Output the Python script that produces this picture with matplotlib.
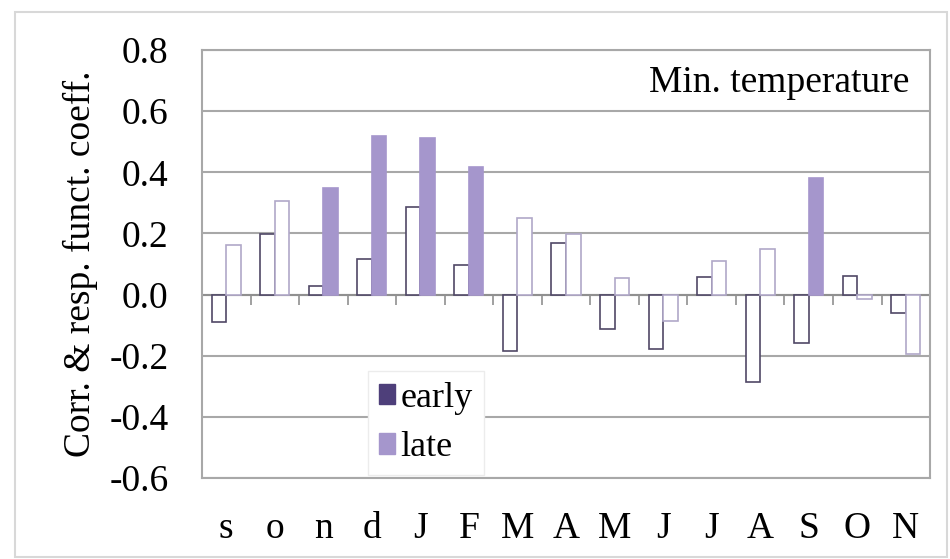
import numpy as np
import matplotlib
matplotlib.use("Agg")
import matplotlib.pyplot as plt
from matplotlib.patches import Patch, Rectangle

plt.rcParams["font.family"] = ["Liberation Serif", "DejaVu Serif"]

months = ["s", "o", "n", "d", "J", "F", "M", "A", "M", "J", "J", "A", "S", "O", "N"]
early = [-0.09, 0.198, 0.027, 0.116, 0.288, 0.097, -0.183, 0.168, -0.112, -0.179, 0.057, -0.287, -0.158, 0.06, -0.06]
late = [0.163, 0.307, 0.35, 0.517, 0.511, 0.418, 0.252, 0.198, 0.054, -0.087, 0.111, 0.149, 0.38, -0.016, -0.196]
# significant coefficients are drawn filled
early_sig = [False] * 15
late_sig = [False, False, True, True, True, True, False, False, False, False, False, False, True, False, False]

dark = "#4e3f7a"
light = "#a596cc"
grid_c = "#a8a8a8"

fig = plt.figure(figsize=(9.5, 5.59), dpi=100)
ax = fig.add_axes([0.2126, 0.1449, 0.7664, 0.7657])

x = np.arange(len(months))
w = 0.3
for i in range(len(months)):
    if early_sig[i]:
        ax.bar(x[i] - w / 2, early[i], w, color=dark, edgecolor=dark, lw=1.2, zorder=3)
    else:
        ax.bar(x[i] - w / 2, early[i], w, color="white", edgecolor="#504866", lw=1.2, zorder=3)
    if late_sig[i]:
        ax.bar(x[i] + w / 2, late[i], w, color=light, edgecolor=light, lw=1.2, zorder=3)
    else:
        ax.bar(x[i] + w / 2, late[i], w, color="white", edgecolor="#b0a8c8", lw=1.2, zorder=3)

ax.set_xlim(-0.5, len(months) - 0.5)
ax.set_ylim(-0.6, 0.8)
ax.set_yticks(np.arange(-0.6, 0.81, 0.2))
ax.set_yticklabels([f"{v:.1f}" for v in np.arange(-0.6, 0.81, 0.2)])
ax.set_xticks(x)
ax.set_xticklabels(months)
ax.tick_params(axis="both", length=0, labelsize=27)
ax.tick_params(axis="y", pad=24)
ax.tick_params(axis="x", pad=24)
ax.yaxis.grid(True, color=grid_c, lw=1.5, zorder=0)
for s in ax.spines.values():
    s.set_color(grid_c)
    s.set_linewidth(1.5)

# zero line with small ticks between months
ax.axhline(0, color="#909090", lw=1.5, zorder=2)
ax.vlines(x[:-1] + 0.5, -0.035, 0, color="#909090", lw=1.2, zorder=2)

ax.set_ylabel("Corr. & resp. funct. coeff.", fontsize=27, labelpad=8)
ax.text(0.972, 0.923, "Min. temperature", transform=ax.transAxes,
        ha="right", va="center", fontsize=27)

handles = [Patch(facecolor=dark, edgecolor=dark, label="early"),
           Patch(facecolor=light, edgecolor=light, label="late")]
leg = ax.legend(handles=handles, loc="upper left", bbox_to_anchor=(0.228, 0.25),
                fontsize=26, frameon=True, fancybox=False, framealpha=1,
                edgecolor="#ececec", handlelength=0.45, handleheight=0.5,
                handletextpad=0.15, borderpad=0.3, labelspacing=0.45,
                borderaxespad=0)
leg.set_zorder(5)

fig.patches.append(Rectangle((15 / 950, 2 / 559), 932 / 950, 545 / 559,
                             transform=fig.transFigure, fill=False,
                             edgecolor="#d8d8d8", lw=1.5))

fig.savefig("out.png", dpi=100)
